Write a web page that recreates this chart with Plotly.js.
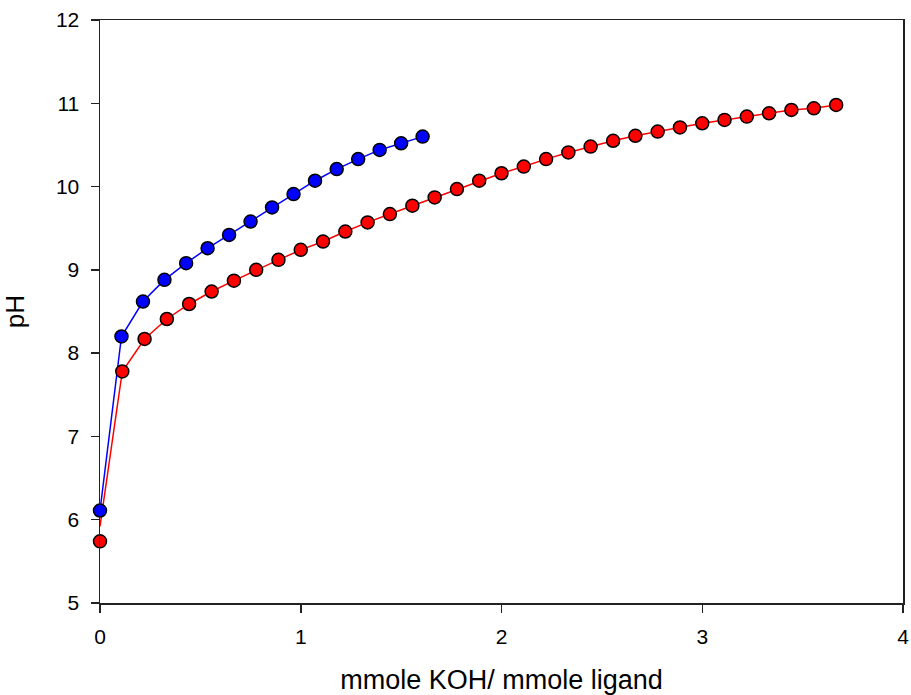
<!DOCTYPE html>
<html>
<head>
<meta charset="utf-8">
<script src="https://cdn.plot.ly/plotly-3.0.1.min.js"></script>
<style>html,body{margin:0;padding:0;background:#fff;}#chart{width:911px;height:695px;}</style>
</head>
<body>
<div id="chart"></div>
<script>
// Blue series (titration 1)
const blueX = [0, 0.107, 0.214, 0.321, 0.429, 0.536, 0.643, 0.750, 0.857, 0.964, 1.071, 1.179, 1.286, 1.393, 1.500, 1.607];
const bluePH = [6.11, 8.20, 8.62, 8.88, 9.08, 9.26, 9.42, 9.58, 9.75, 9.91, 10.07, 10.21, 10.33, 10.44, 10.52, 10.60];

// Red series (titration 2)
const redX = [0, 0.111, 0.222, 0.333, 0.444, 0.556, 0.667, 0.778, 0.889, 1.000,
  1.111, 1.222, 1.333, 1.444, 1.556, 1.667, 1.778, 1.889, 2.000, 2.111,
  2.222, 2.333, 2.444, 2.556, 2.667, 2.778, 2.889, 3.000, 3.111, 3.222,
  3.333, 3.444, 3.556, 3.667];
const redPH = [5.74, 7.78, 8.17, 8.41, 8.59, 8.74, 8.87, 9.00, 9.12, 9.24,
  9.34, 9.46, 9.57, 9.67, 9.77, 9.87, 9.97, 10.07, 10.16, 10.24,
  10.33, 10.41, 10.48, 10.55, 10.61, 10.66, 10.71, 10.76, 10.80, 10.84,
  10.88, 10.92, 10.94, 10.98];

// Fitted curve start values at x = 0
const redFitStart = 5.92;
const blueFitStart = 6.11;

const xTicks = [0, 1, 2, 3, 4];
const yTicks = [5, 6, 7, 8, 9, 10, 11, 12];

const redLineY = [redFitStart].concat(redPH.slice(1));
const blueLineY = [blueFitStart].concat(bluePH.slice(1));

const markerStyle = (c) => ({size: 13, color: c, line: {color: '#000', width: 1.5}});

const traces = [
  {x: redX, y: redLineY, mode: 'lines', line: {color: '#ff0000', width: 1.5}, hoverinfo: 'skip', cliponaxis: false},
  {x: blueX, y: blueLineY, mode: 'lines', line: {color: '#0000ff', width: 1.5}, hoverinfo: 'skip', cliponaxis: false},
  {x: redX, y: redPH, mode: 'markers', marker: markerStyle('#ff0000'), cliponaxis: false},
  {x: blueX, y: bluePH, mode: 'markers', marker: markerStyle('#0000ff'), cliponaxis: false}
];

const fontFam = '"Liberation Sans", Arial, sans-serif';

const layout = {
  width: 911, height: 695,
  margin: {l: 100, r: 8, t: 20, b: 92},
  paper_bgcolor: '#fff', plot_bgcolor: '#fff',
  showlegend: false,
  font: {family: fontFam, color: '#000', size: 21},
  xaxis: {
    range: [0, 4], tickvals: xTicks, ticktext: xTicks.map(String),
    ticks: 'outside', ticklen: 8, tickwidth: 1.5, tickcolor: '#222',
    showline: true, linecolor: '#222', linewidth: 1.5, mirror: true,
    showgrid: false, zeroline: false,
    ticklabelstandoff: 6,
    tickfont: {size: 21, family: fontFam},
    title: {text: 'mmole KOH/ mmole ligand', font: {size: 27, family: fontFam}, standoff: 24}
  },
  yaxis: {
    range: [5, 12], tickvals: yTicks, ticktext: yTicks.map(String),
    ticks: 'outside', ticklen: 8, tickwidth: 1.5, tickcolor: '#222',
    showline: true, linecolor: '#222', linewidth: 1.5, mirror: true,
    showgrid: false, zeroline: false,
    ticklabelstandoff: 7,
    tickfont: {size: 21, family: fontFam},
    title: {text: 'pH', font: {size: 26, family: fontFam}, standoff: 28}
  }
};

Plotly.newPlot('chart', traces, layout, {displayModeBar: false, staticPlot: true});
</script>
</body>
</html>
